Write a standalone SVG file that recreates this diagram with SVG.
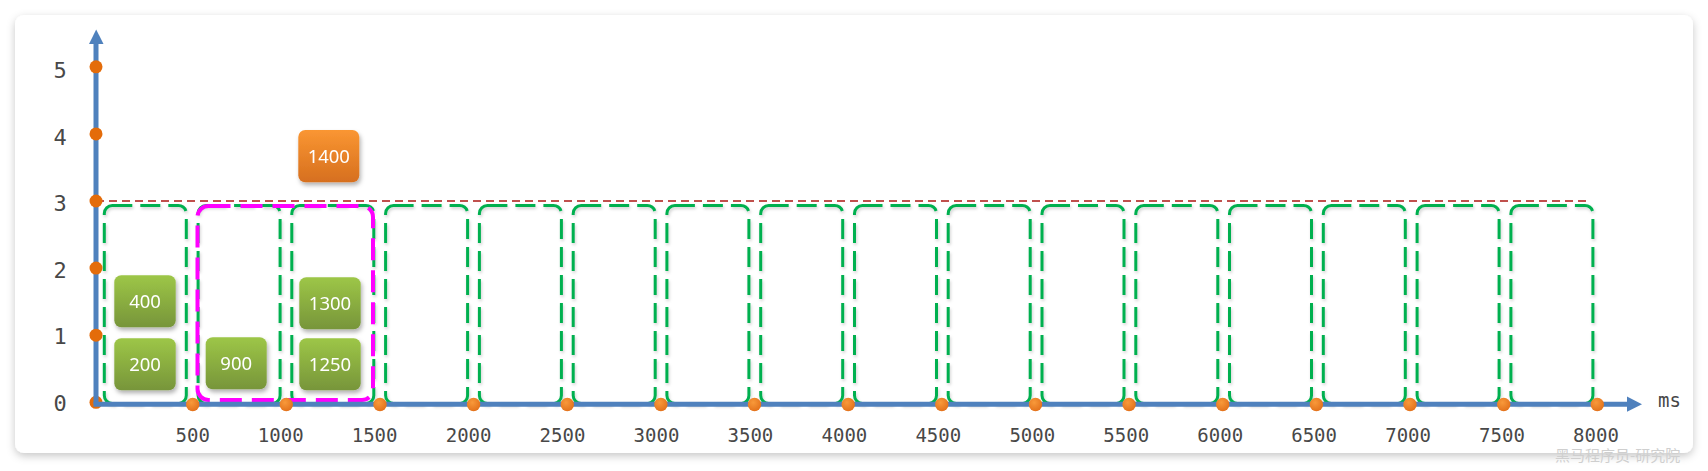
<svg xmlns="http://www.w3.org/2000/svg" width="1708" height="471" viewBox="0 0 1708 471">
<defs>
<filter id="cardShadow" x="-5%" y="-10%" width="110%" height="125%">
<feDropShadow dx="0" dy="3" stdDeviation="4" flood-color="#000" flood-opacity="0.22"/>
</filter>
<filter id="boxShadow" x="-20%" y="-20%" width="150%" height="160%">
<feDropShadow dx="1.5" dy="3" stdDeviation="2" flood-color="#000" flood-opacity="0.3"/>
</filter>
<filter id="lineShadow" x="-5%" y="-5%" width="110%" height="110%">
<feDropShadow dx="1" dy="2" stdDeviation="1.5" flood-color="#000" flood-opacity="0.18"/>
</filter>
<linearGradient id="gGreen" x1="0" y1="0" x2="0" y2="1">
<stop offset="0" stop-color="#9DC647"/>
<stop offset="1" stop-color="#77953A"/>
</linearGradient>
<linearGradient id="gOrange" x1="0" y1="0" x2="0" y2="1">
<stop offset="0" stop-color="#FA9632"/>
<stop offset="1" stop-color="#D66F1F"/>
</linearGradient>
<radialGradient id="gDot" cx="0.4" cy="0.35" r="0.7">
<stop offset="0" stop-color="#F8993A"/>
<stop offset="1" stop-color="#E2701A"/>
</radialGradient>
</defs>
<style>
.ylab{font-family:"DejaVu Sans Mono",monospace;font-size:22px;fill:#484848;text-anchor:middle}
.xlab{font-family:"DejaVu Sans Mono",monospace;font-size:19px;fill:#484848;text-anchor:middle}
.win{fill:none;stroke:#00B050;stroke-width:3;stroke-dasharray:20 8}
.axis{stroke:#4F81BD;stroke-width:5;fill:none}
.ydot{fill:#E46C0A}
.xdot{fill:url(#gDot)}
.box{stroke:none}
.btxt{font-family:"Noto Sans","Open Sans",sans-serif;font-size:18.5px;fill:#fff;text-anchor:middle}
</style>
<rect width="1708" height="471" fill="#fff"/>
<rect id="card" x="15" y="15" width="1678" height="438" rx="9" fill="#fff" filter="url(#cardShadow)"/>

<g id="windows" filter="url(#lineShadow)">
<rect class="win" x="104.3" y="205.5" width="82" height="198" rx="8"/>
<rect class="win" x="198.1" y="205.5" width="82" height="198" rx="8"/>
<rect class="win" x="291.8" y="205.5" width="82" height="198" rx="8"/>
<rect class="win" x="385.6" y="205.5" width="82" height="198" rx="8"/>
<rect class="win" x="479.4" y="205.5" width="82" height="198" rx="8"/>
<rect class="win" x="573.2" y="205.5" width="82" height="198" rx="8"/>
<rect class="win" x="666.9" y="205.5" width="82" height="198" rx="8"/>
<rect class="win" x="760.7" y="205.5" width="82" height="198" rx="8"/>
<rect class="win" x="854.5" y="205.5" width="82" height="198" rx="8"/>
<rect class="win" x="948.2" y="205.5" width="82" height="198" rx="8"/>
<rect class="win" x="1042.0" y="205.5" width="82" height="198" rx="8"/>
<rect class="win" x="1135.8" y="205.5" width="82" height="198" rx="8"/>
<rect class="win" x="1229.5" y="205.5" width="82" height="198" rx="8"/>
<rect class="win" x="1323.3" y="205.5" width="82" height="198" rx="8"/>
<rect class="win" x="1417.1" y="205.5" width="82" height="198" rx="8"/>
<rect class="win" x="1510.9" y="205.5" width="82" height="198" rx="8"/>
</g>

<g id="limit">
<line x1="96" y1="201" x2="1588" y2="201" stroke="#C0504D" stroke-width="2" stroke-dasharray="8 5"/>
</g>

<g id="highlight">
<rect x="197.5" y="206" width="175.5" height="194" rx="11" fill="none" stroke="#FF00FF" stroke-width="4" stroke-dasharray="22 10"/>
</g>

<g id="connectors">
<circle class="ydot" cx="96" cy="402.3" r="6.5"/>
<line class="axis" x1="96" y1="404" x2="96" y2="43"/>
<polygon points="89,44 103.5,44 96.2,29.5" fill="#4F81BD"/>
<line class="axis" x1="93.5" y1="404.2" x2="1628" y2="404.2"/>
<polygon points="1627,396.5 1627,411.8 1642,404.2" fill="#4F81BD"/>
</g>

<g id="ydots">
<circle class="ydot" cx="96" cy="335.2" r="6.5"/>
<circle class="ydot" cx="96" cy="268.1" r="6.5"/>
<circle class="ydot" cx="96" cy="201" r="6.5"/>
<circle class="ydot" cx="96" cy="133.9" r="6.5"/>
<circle class="ydot" cx="96" cy="66.8" r="6.5"/>
</g>

<g id="xdots">
<circle class="xdot" cx="192.7" cy="404.5" r="6.7"/>
<circle class="xdot" cx="286.3" cy="404.5" r="6.7"/>
<circle class="xdot" cx="380.0" cy="404.5" r="6.7"/>
<circle class="xdot" cx="473.6" cy="404.5" r="6.7"/>
<circle class="xdot" cx="567.3" cy="404.5" r="6.7"/>
<circle class="xdot" cx="660.9" cy="404.5" r="6.7"/>
<circle class="xdot" cx="754.5" cy="404.5" r="6.7"/>
<circle class="xdot" cx="848.2" cy="404.5" r="6.7"/>
<circle class="xdot" cx="941.8" cy="404.5" r="6.7"/>
<circle class="xdot" cx="1035.5" cy="404.5" r="6.7"/>
<circle class="xdot" cx="1129.1" cy="404.5" r="6.7"/>
<circle class="xdot" cx="1222.7" cy="404.5" r="6.7"/>
<circle class="xdot" cx="1316.4" cy="404.5" r="6.7"/>
<circle class="xdot" cx="1410.0" cy="404.5" r="6.7"/>
<circle class="xdot" cx="1503.7" cy="404.5" r="6.7"/>
<circle class="xdot" cx="1597.3" cy="404.5" r="6.7"/>
</g>

<g id="ylabels">
<text class="ylab" x="60" y="410.8">0</text>
<text class="ylab" x="60" y="344.3">1</text>
<text class="ylab" x="60" y="277.8">2</text>
<text class="ylab" x="60" y="211.3">3</text>
<text class="ylab" x="60" y="144.8">4</text>
<text class="ylab" x="60" y="78.3">5</text>
</g>

<g id="xlabels">
<text class="xlab" x="192.7" y="442">500</text>
<text class="xlab" x="280.7" y="442">1000</text>
<text class="xlab" x="374.6" y="442">1500</text>
<text class="xlab" x="468.6" y="442">2000</text>
<text class="xlab" x="562.5" y="442">2500</text>
<text class="xlab" x="656.5" y="442">3000</text>
<text class="xlab" x="750.4" y="442">3500</text>
<text class="xlab" x="844.4" y="442">4000</text>
<text class="xlab" x="938.3" y="442">4500</text>
<text class="xlab" x="1032.3" y="442">5000</text>
<text class="xlab" x="1126.2" y="442">5500</text>
<text class="xlab" x="1220.2" y="442">6000</text>
<text class="xlab" x="1314.1" y="442">6500</text>
<text class="xlab" x="1408.1" y="442">7000</text>
<text class="xlab" x="1502.0" y="442">7500</text>
<text class="xlab" x="1596.0" y="442">8000</text>
<text class="xlab" x="1669.5" y="406.5">ms</text>
</g>

<g id="node-400" filter="url(#boxShadow)">
<rect class="box" x="114.3" y="275.3" width="61.4" height="52" rx="7" fill="url(#gGreen)"/>
<text class="btxt" x="145" y="307.5">400</text>
</g>
<g id="node-200" filter="url(#boxShadow)">
<rect class="box" x="114.3" y="338.3" width="61.4" height="52" rx="7" fill="url(#gGreen)"/>
<text class="btxt" x="145" y="370.5">200</text>
</g>
<g id="node-900" filter="url(#boxShadow)">
<rect class="box" x="205.7" y="337.3" width="61" height="52" rx="7" fill="url(#gGreen)"/>
<text class="btxt" x="236.2" y="369.5">900</text>
</g>
<g id="node-1300" filter="url(#boxShadow)">
<rect class="box" x="299.3" y="277.3" width="61.4" height="52" rx="7" fill="url(#gGreen)"/>
<text class="btxt" x="330" y="309.5">1300</text>
</g>
<g id="node-1250" filter="url(#boxShadow)">
<rect class="box" x="299.3" y="338.3" width="61.4" height="52" rx="7" fill="url(#gGreen)"/>
<text class="btxt" x="330" y="370.5">1250</text>
</g>
<g id="node-1400" filter="url(#boxShadow)">
<rect class="box" x="298.3" y="130" width="61" height="52.3" rx="7" fill="url(#gOrange)"/>
<text class="btxt" x="328.8" y="162.5">1400</text>
</g>

<g id="watermark">
<text x="1555" y="461" font-family="'Noto Sans CJK SC',sans-serif" font-size="15" fill="#cfcfcf">黑马程序员-研究院</text>
</g>
</svg>
